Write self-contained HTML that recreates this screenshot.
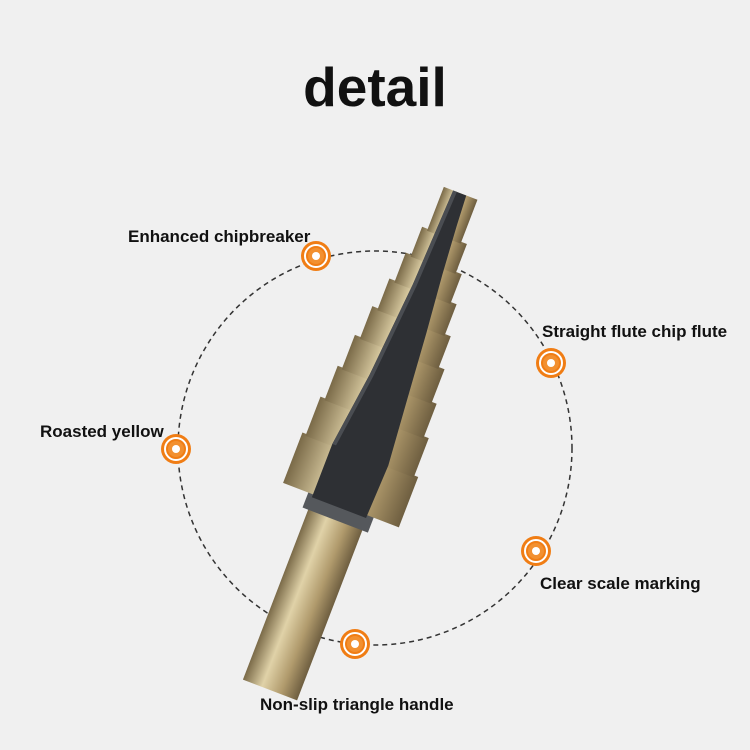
<!DOCTYPE html>
<html><head><meta charset="utf-8"><style>
body{margin:0;width:750px;height:750px;background:#f0f0f0;overflow:hidden}
svg{display:block}
</style></head><body>
<svg width="750" height="750" viewBox="0 0 750 750" font-family="Liberation Sans, sans-serif">
<defs>
<linearGradient id="g" x1="0" x2="1" y1="0" y2="0">
<stop offset="0" stop-color="#7a6a48"/><stop offset="0.35" stop-color="#e0d2a8"/><stop offset="0.7" stop-color="#b09a6c"/><stop offset="1" stop-color="#6e5e40"/>
</linearGradient>
<g id="ic"><circle r="15" fill="#f07d14"/><circle r="11" fill="none" stroke="#fff" stroke-width="2"/><circle r="8" fill="#f29030"/><circle r="4" fill="#fff"/></g>
</defs>
<rect width="750" height="750" fill="#f0f0f0"/>
<text x="375" y="106" text-anchor="middle" font-size="55" font-weight="bold" fill="#111">detail</text>
<circle cx="375" cy="448" r="197" fill="none" stroke="#333" stroke-width="1.5" stroke-dasharray="5,4"/>
<g transform="translate(270,690) rotate(21)">
<rect x="-29" y="-185" width="58" height="185" fill="url(#g)"/>
<rect x="-35" y="-200" width="70" height="18" fill="#55585c"/>
<rect x="-62" y="-252" width="124" height="54" fill="url(#g)"/>
<rect x="-58" y="-292" width="116" height="42" fill="url(#g)"/>
<rect x="-53" y="-327" width="106" height="37" fill="url(#g)"/>
<rect x="-48" y="-362" width="96" height="37" fill="url(#g)"/>
<rect x="-42" y="-395" width="84" height="35" fill="url(#g)"/>
<rect x="-36" y="-427" width="72" height="34" fill="url(#g)"/>
<rect x="-30" y="-457" width="60" height="32" fill="url(#g)"/>
<rect x="-24" y="-487" width="48" height="32" fill="url(#g)"/>
<rect x="-18" y="-532" width="36" height="47" fill="url(#g)"/>
<polygon points="-30,-195 28,-195 30,-252 24,-320 18,-390 12,-450 8,-500 6,-532 -8,-532 -12,-430 -20,-330 -30,-252" fill="#2e3034"/>
<polygon points="-30,-252 -20,-330 -12,-430 -8,-532 -4,-532 -8,-430 -16,-330 -26,-252" fill="#4a4d52"/>
</g>
<use href="#ic" x="316" y="256"/>
<use href="#ic" x="551" y="363"/>
<use href="#ic" x="176" y="449"/>
<use href="#ic" x="536" y="551"/>
<use href="#ic" x="355" y="644"/>
<g font-size="17" font-weight="bold" fill="#111">
<text x="128" y="242">Enhanced chipbreaker</text>
<text x="542" y="337">Straight flute chip flute</text>
<text x="40" y="437">Roasted yellow</text>
<text x="540" y="589">Clear scale marking</text>
<text x="260" y="710">Non-slip triangle handle</text>
</g>
</svg>
</body></html>
